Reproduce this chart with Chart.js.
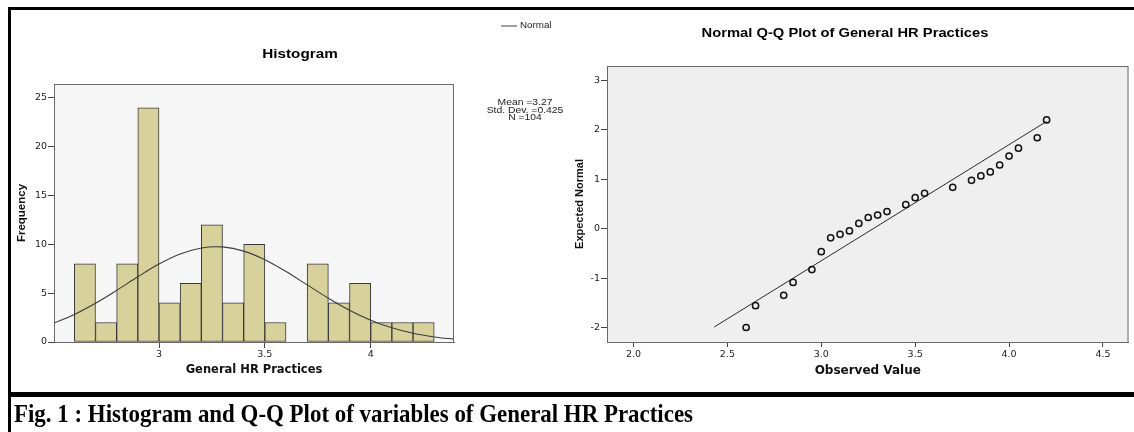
<!DOCTYPE html>
<html>
<head>
<meta charset="utf-8">
<script src="https://cdn.jsdelivr.net/npm/chart.js@4.4.1/dist/chart.umd.min.js"></script>
<style>
  html, body { margin:0; padding:0; background:#fff; width:1134px; height:432px; overflow:hidden; }
  #wrap { position:relative; width:1134px; height:432px; }
  canvas { position:absolute; left:0; top:0; pointer-events:none; }
  #frame { position:absolute; left:8px; top:7px; width:1140px; border-top:3px solid #000; border-left:3px solid #000; border-bottom:5px solid #000; box-sizing:border-box; height:390px; }
  #capline { position:absolute; left:8px; top:397px; width:3px; height:40px; background:#000; }
  #caption { position:absolute; left:14px; top:400px; font-family:"Liberation Serif", "Times New Roman", serif; font-weight:bold; font-size:25px; line-height:28px; white-space:nowrap; transform-origin:0 0; color:#000; }
</style>
</head>
<body>
<div id="wrap">
  <div id="frame"></div>
  <div id="capline"></div>
  <canvas id="hist" width="1134" height="432"></canvas>
  <canvas id="qq" width="1134" height="432"></canvas>
  <div id="caption">Fig. 1 : Histogram and Q-Q Plot of variables of General HR Practices</div>
</div>
<script>
// ---------- data ----------
const binCenters   = [2.65,2.75,2.85,2.95,3.05,3.15,3.25,3.35,3.45,3.55,3.65,3.75,3.85,3.95,4.05,4.15,4.25];
const frequencies  = [8,2,8,24,4,6,12,4,10,2,0,8,4,6,2,2,2];
const normalX      = [2.5,2.6,2.7,2.8,2.9,3.0,3.1,3.2,3.27,3.3,3.4,3.5,3.6,3.7,3.8,3.9,4.0,4.1,4.2,4.3,4.4];
const normalY      = [1.89,2.82,3.97,5.29,6.68,7.98,9.01,9.63,9.76,9.74,9.31,8.43,7.22,5.85,4.48,3.25,2.23,1.45,0.89,0.52,0.28];
const histXTicks   = [3,3.5,4];
const histYTicks   = [0,5,10,15,20,25];

const qqObserved   = [2.6,2.65,2.8,2.85,2.95,3.0,3.05,3.1,3.15,3.2,3.25,3.3,3.35,3.45,3.5,3.55,3.7,3.8,3.85,3.9,3.95,4.0,4.05,4.15,4.2];
const qqExpected   = [-1.99,-1.55,-1.34,-1.08,-0.82,-0.46,-0.18,-0.11,-0.04,0.11,0.23,0.28,0.35,0.49,0.63,0.72,0.84,0.98,1.07,1.15,1.29,1.47,1.63,1.84,2.2];
const refLineX     = [2.43,4.2];
const refLineY     = [-1.98,2.17];
const qqXTicks     = [2.0,2.5,3.0,3.5,4.0,4.5];
const qqYTicks     = [-2,-1,0,1,2,3];

const statLines    = ["Mean =3.27","Std. Dev. =0.425","N =104"];

// ---------- helpers ----------
const TICK_FONT = { family: "'DejaVu Sans', sans-serif", size: 9.5 };
const areaPlugin = {
  id: 'area',
  beforeDraw(chart, args, o) {
    const {left, top, width, height} = chart.chartArea;
    const ctx = chart.ctx;
    ctx.save(); ctx.fillStyle = o.bg; ctx.fillRect(left, top, width, height); ctx.restore();
  },
  afterDraw(chart, args, o) {
    const {left, top, width, height} = chart.chartArea;
    const ctx = chart.ctx;
    ctx.save(); ctx.strokeStyle = o.border; ctx.lineWidth = 1;
    ctx.strokeRect(left + 0.5, top + 0.5, width - 1, height);
    ctx.restore();
  }
};
const textPlugin = {
  id: 'texts',
  afterDraw(chart, args, o) {
    const ctx = chart.ctx;
    (o.lines || []).forEach(l => {
      ctx.save(); ctx.strokeStyle = l.color; ctx.lineWidth = l.width;
      ctx.beginPath(); ctx.moveTo(l.x1, l.y); ctx.lineTo(l.x2, l.y); ctx.stroke(); ctx.restore();
    });
    (o.items || []).forEach(t => {
      ctx.save();
      ctx.font = t.font; ctx.fillStyle = t.color || '#000';
      ctx.textAlign = t.align || 'center'; ctx.textBaseline = 'middle';
      ctx.translate(t.x, t.y); ctx.scale(t.sx || 1, 1);
      ctx.fillText(t.text, 0, 0);
      ctx.restore();
    });
  }
};
function setTicks(list) { return function(scale) { scale.ticks = list.map(v => ({ value: v })); }; }

// ---------- histogram ----------
new Chart(document.getElementById('hist'), {
  type: 'bar',
  data: {
    datasets: [
      {
        type: 'line', label: 'Normal', order: 0,
        data: normalX.map((x, i) => ({ x: x, y: normalY[i] })),
        borderColor: '#3c3c3c', borderWidth: 1.1, pointRadius: 0,
        cubicInterpolationMode: 'monotone', fill: false
      },
      {
        type: 'bar', label: 'Frequency', order: 1,
        data: binCenters.map((x, i) => ({ x: x, y: frequencies[i] })),
        backgroundColor: '#d7d19b', borderColor: '#3a3a3a', borderWidth: 1,
        borderSkipped: false, barPercentage: 1, categoryPercentage: 1, grouped: false
      }
    ]
  },
  options: {
    responsive: false, animation: false, events: [],
    layout: { padding: { left: 0, top: 84, right: 680, bottom: 54 } },
    plugins: {
      legend: { display: false }, tooltip: { enabled: false },
      area: { bg: '#f6f6f6', border: '#6a6a6a' },
      texts: {
        lines: [{ x1: 501, x2: 517, y: 26, color: '#444', width: 1 }],
        items: [
          { text: 'Histogram', x: 300, y: 55, font: "bold 12.5px 'Liberation Sans', Arial, sans-serif", sx: 1.22 },
          { text: 'Normal', x: 520, y: 26, align: 'left', font: "8.5px 'Liberation Sans', Arial, sans-serif", sx: 1.15, color: '#222' },
          { text: statLines[0], x: 525, y: 103, font: "9px 'Liberation Sans', Arial, sans-serif", sx: 1.15, color: '#222' },
          { text: statLines[1], x: 525, y: 110.5, font: "9px 'Liberation Sans', Arial, sans-serif", sx: 1.15, color: '#222' },
          { text: statLines[2], x: 525, y: 118, font: "9px 'Liberation Sans', Arial, sans-serif", sx: 1.15, color: '#222' }
        ]
      }
    },
    scales: {
      x: {
        type: 'linear', min: 2.504, max: 4.3935, offset: false,
        afterBuildTicks: setTicks(histXTicks),
        afterFit(s) { s.height = 36; },
        grid: { offset: false, drawOnChartArea: false, drawTicks: true, tickLength: 6, color: '#444' },
        border: { display: true, color: '#6a6a6a' },
        ticks: { font: TICK_FONT, color: '#222', padding: 1, maxRotation: 0, callback: v => String(v) },
        title: { display: true, text: 'General HR Practices', color: '#111',
                 font: { family: "'DejaVu Sans', sans-serif", size: 11.5, weight: 'bold' }, padding: { top: 0, bottom: 1 } }
      },
      y: {
        type: 'linear', min: 0, max: 26.43,
        afterBuildTicks: setTicks(histYTicks),
        afterFit(s) { s.width = 54; },
        grid: { drawOnChartArea: false, drawTicks: true, tickLength: 6, color: '#444' },
        border: { display: true, color: '#6a6a6a' },
        ticks: { font: TICK_FONT, color: '#222', padding: 1, callback: v => String(v) },
        title: { display: true, text: 'Frequency', color: '#111',
                 font: { family: "'Liberation Sans', Arial, sans-serif", size: 11.5, weight: 'bold' }, padding: { top: 15.2, bottom: 0 } }
      }
    }
  },
  plugins: [areaPlugin, textPlugin]
});

// ---------- Q-Q plot ----------
new Chart(document.getElementById('qq'), {
  type: 'scatter',
  data: {
    datasets: [
      {
        type: 'line', label: 'Reference', order: 1,
        data: refLineX.map((x, i) => ({ x: x, y: refLineY[i] })),
        borderColor: '#2a2a2a', borderWidth: 1, pointRadius: 0, fill: false
      },
      {
        type: 'scatter', label: 'Observed', order: 0,
        data: qqObserved.map((x, i) => ({ x: x, y: qqExpected[i] })),
        pointStyle: 'circle', pointRadius: 3.1, borderWidth: 1.5,
        borderColor: '#111', backgroundColor: 'rgba(0,0,0,0)'
      }
    ]
  },
  options: {
    responsive: false, animation: false, events: [],
    layout: { padding: { left: 567, top: 66, right: 5, bottom: 54 } },
    plugins: {
      legend: { display: false }, tooltip: { enabled: false },
      area: { bg: '#efefef', border: '#6a6a6a' },
      texts: {
        items: [
          { text: 'Normal Q-Q Plot of General HR Practices', x: 845, y: 34, font: "bold 12.5px 'Liberation Sans', Arial, sans-serif", sx: 1.18 }
        ]
      }
    },
    scales: {
      x: {
        type: 'linear', min: 1.859, max: 4.636,
        afterBuildTicks: setTicks(qqXTicks),
        afterFit(s) { s.height = 36; },
        grid: { drawOnChartArea: false, drawTicks: true, tickLength: 5, color: '#444' },
        border: { display: true, color: '#6a6a6a' },
        ticks: { font: TICK_FONT, color: '#222', padding: 2, maxRotation: 0, callback: v => v.toFixed(1) },
        title: { display: true, text: 'Observed Value', color: '#111',
                 font: { family: "'DejaVu Sans', sans-serif", size: 12, weight: 'bold' }, padding: { top: 0, bottom: 0 } }
      },
      y: {
        type: 'linear', min: -2.283, max: 3.289,
        afterBuildTicks: setTicks(qqYTicks),
        afterFit(s) { s.width = 40; },
        grid: { drawOnChartArea: false, drawTicks: true, tickLength: 6, color: '#444' },
        border: { display: true, color: '#6a6a6a' },
        ticks: { font: TICK_FONT, color: '#222', padding: 1, callback: v => String(v) },
        title: { display: true, text: 'Expected Normal', color: '#111',
                 font: { family: "'Liberation Sans', Arial, sans-serif", size: 11, weight: 'bold' }, padding: { top: 6.2, bottom: 0 } }
      }
    }
  },
  plugins: [areaPlugin, textPlugin]
});

// fit caption width to the reference span
(function () {
  const c = document.getElementById('caption');
  const w = c.getBoundingClientRect().width;
  c.style.transform = 'scaleX(' + (679 / w) + ')';
})();
</script>
</body>
</html>
